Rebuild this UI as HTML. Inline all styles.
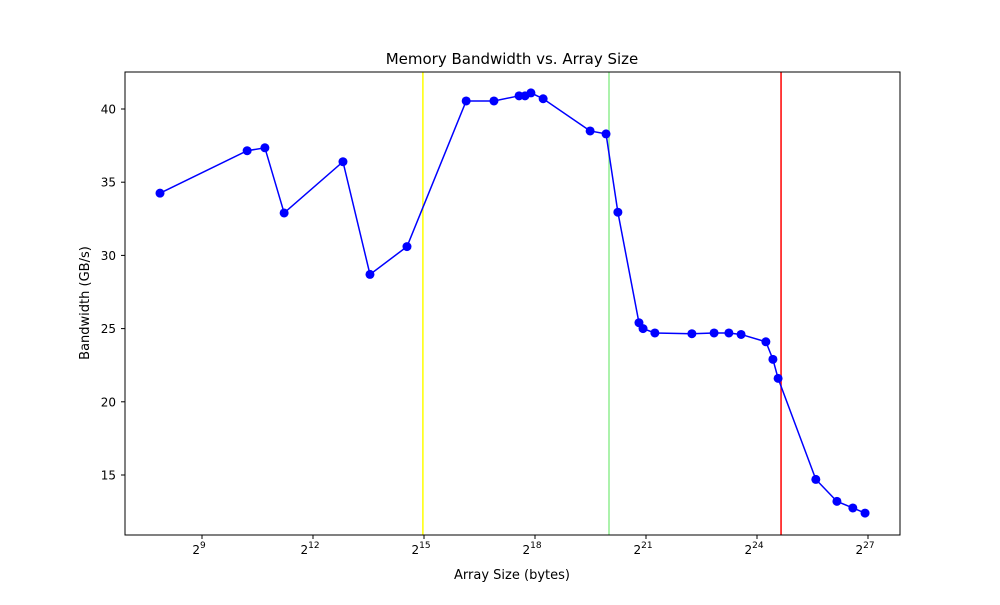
<!DOCTYPE html>
<html><head><meta charset="utf-8"><style>
body{margin:0;background:#fff;font-family:"Liberation Sans","DejaVu Sans",sans-serif}
svg text{font-family:"DejaVu Sans","Liberation Sans",sans-serif;fill:#000}
</style></head><body>
<svg id="chart" width="1000" height="600" xmlns="http://www.w3.org/2000/svg">
<rect width="1000" height="600" fill="#fff"/>
<text x="512" y="64" font-size="15" text-anchor="middle">Memory Bandwidth vs. Array Size</text>
<text x="512" y="579" font-size="13" text-anchor="middle">Array Size (bytes)</text>
<text x="89" y="303" font-size="13" text-anchor="middle" transform="rotate(-90 89 303)">Bandwidth (GB/s)</text>
<g id="marks"></g>
<rect x="125" y="72" width="775" height="463" fill="none" stroke="#000" stroke-width="1"/>
</svg>
<script>
const exps = [7.865,10.22,10.70,11.22,12.81,13.54,14.54,16.14,16.89,17.57,17.73,17.89,18.22,19.49,19.92,20.24,20.81,20.92,21.24,22.24,22.84,23.24,23.57,24.24,24.43,24.57,25.59,26.16,26.59,26.92];
const bandwidth = [34.25,37.15,37.35,32.9,36.4,28.7,30.6,40.55,40.55,40.9,40.9,41.1,40.7,38.5,38.3,32.95,25.4,25.0,24.7,24.65,24.7,24.7,24.6,24.1,22.9,21.6,14.7,13.2,12.75,12.4];
const xTicks = [9,12,15,18,21,24,27];
const yTicks = [15,20,25,30,35,40];
const cacheLines = [14.97,20,24.65];
const cacheColors = ["#ffff00","#90ee90","#ff0000"];
const NS="http://www.w3.org/2000/svg";
const X=p=>202+(p-9)*37;
const Y=v=>109+(40-v)*14.64;
const g=document.getElementById('marks');
function mk(t,a){const e=document.createElementNS(NS,t);for(const k in a)e.setAttribute(k,a[k]);g.appendChild(e);return e;}
xTicks.forEach(p=>{
  const l=mk('line',{x1:X(p),x2:X(p),y1:535,y2:539,stroke:'#000'});
  
  
  const t=mk('text',{x:X(p)-3,y:554,'font-size':12,'text-anchor':'middle'});
  
  
  t.innerHTML='2<tspan dy="-6" font-size="9">'+p+'</tspan>';
});
yTicks.forEach(v=>{
  const l=mk('line',{x1:121,x2:125,y1:Y(v),y2:Y(v),stroke:'#000'});
  
  
  const t=mk('text',{x:116,y:Y(v)+4.5,'font-size':12,'text-anchor':'end'});
  
  
  t.textContent=v;
});
cacheLines.forEach((p,i)=>{
  const l=mk('line',{x1:X(p),x2:X(p),y1:72,y2:535,stroke:cacheColors[i],'stroke-width':1.5});
  
  
});
const pts=exps.map((p,i)=>X(p)+','+Y(bandwidth[i])).join(' ');
const pl=mk('polyline',{points:pts,fill:'none',stroke:'#0000ff','stroke-width':1.5});


exps.forEach((p,i)=>{
  const c=mk('circle',{cx:X(p),cy:Y(bandwidth[i]),r:4.5,fill:'#0000ff'});
  
  
});
</script>
</body></html>
